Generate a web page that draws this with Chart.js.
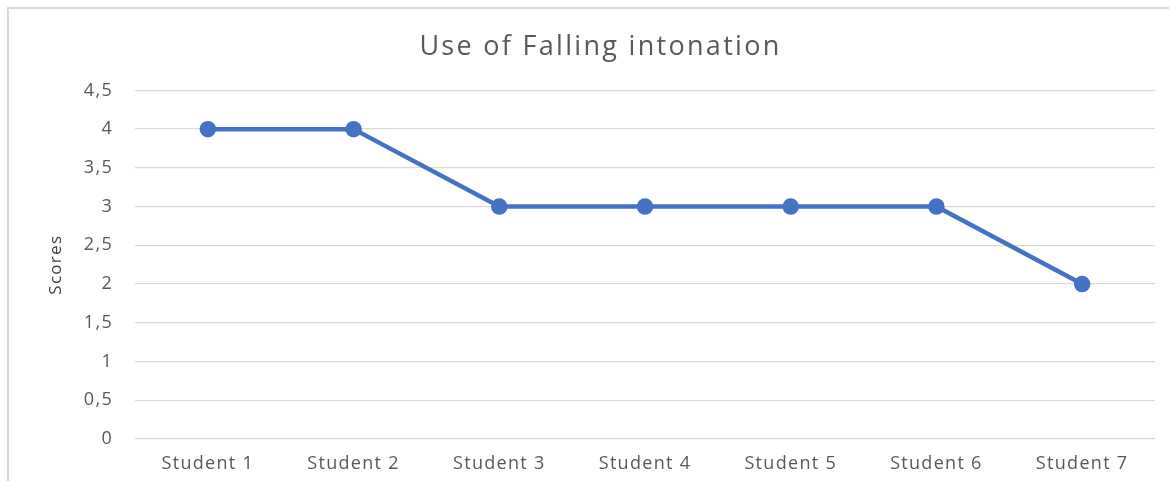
<!DOCTYPE html>
<html>
<head>
<meta charset="utf-8">
<script src="https://cdn.jsdelivr.net/npm/chart.js@4/dist/chart.umd.min.js"></script>
<style>
  html, body { margin: 0; padding: 0; background: #fff; overflow: hidden; }
  #frame { position: absolute; left: 7px; top: 7px; width: 1175px; height: 490px; border: 2px solid #d9d9d9; box-sizing: border-box; }
  #wrap { position: absolute; left: 0; top: 0; width: 1169px; height: 481px; }
</style>
</head>
<body>
<div id="frame"></div>
<div id="wrap"><canvas id="chart"></canvas></div>
<script>
const categories = ['Student 1', 'Student 2', 'Student 3', 'Student 4', 'Student 5', 'Student 6', 'Student 7'];
const scores = [4, 4, 3, 3, 3, 3, 2];
const yTicks = [0, 0.5, 1, 1.5, 2, 2.5, 3, 3.5, 4, 4.5];

const textColor = '#595959';
const fontFamily = '"Open Sans", "Noto Sans", sans-serif';

const ctx = document.getElementById('chart').getContext('2d');

// the office-style text is wider than Open Sans, so space the letters out by font size
const spacingFor = (font) => {
  const m = /(\d+(?:\.\d+)?)px/.exec(font);
  const size = m ? parseFloat(m[1]) : 0;
  if (size >= 24) return '2.3px';
  if (size >= 17) return '1.3px';
  return '0px';
};
const origFill = ctx.fillText;
ctx.fillText = function (text, x, y, maxWidth) {
  this.letterSpacing = spacingFor(this.font);
  return maxWidth === undefined ? origFill.call(this, text, x, y) : origFill.call(this, text, x, y, maxWidth);
};
const origMeasure = ctx.measureText;
ctx.measureText = function (text) {
  this.letterSpacing = spacingFor(this.font);
  return origMeasure.call(this, text);
};

new Chart(ctx, {
  type: 'line',
  data: {
    labels: categories,
    datasets: [{
      label: 'Scores',
      data: scores,
      borderColor: '#4472C4',
      backgroundColor: '#4472C4',
      borderWidth: 4.5,
      pointRadius: 6,
      pointHoverRadius: 6,
      tension: 0
    }]
  },
  options: {
    responsive: true,
    maintainAspectRatio: false,
    animation: false,
    layout: { padding: { left: 46, right: 14, top: 0, bottom: 0 } },
    plugins: {
      legend: { display: false },
      tooltip: { enabled: false },
      title: {
        display: true,
        text: 'Use of Falling intonation',
        color: textColor,
        font: { family: fontFamily, size: 27, weight: 'normal' },
        padding: { top: 31, bottom: 27 }
      }
    },
    scales: {
      x: {
        offset: true,
        grid: { display: false, drawTicks: false },
        border: { display: false },
        ticks: { color: textColor, font: { family: fontFamily, size: 18 }, padding: 14, maxRotation: 0 },
        afterFit: (scale) => { scale.height = 42; }
      },
      y: {
        min: 0,
        max: 4.5,
        afterBuildTicks: (scale) => { scale.ticks = yTicks.map(v => ({ value: v })); },
        grid: { color: '#d9d9d9', lineWidth: 1.3, drawTicks: false },
        border: { display: false },
        ticks: {
          color: textColor,
          font: { family: fontFamily, size: 18 },
          padding: 22,
          callback: (v) => String(v).replace('.', ',')
        },
        title: {
          display: true,
          text: 'Scores',
          color: '#404040',
          font: { family: fontFamily, size: 17 },
          padding: 0
        },
        afterFit: (scale) => { scale.width = 89; }
      }
    }
  }
});
</script>
</body>
</html>
